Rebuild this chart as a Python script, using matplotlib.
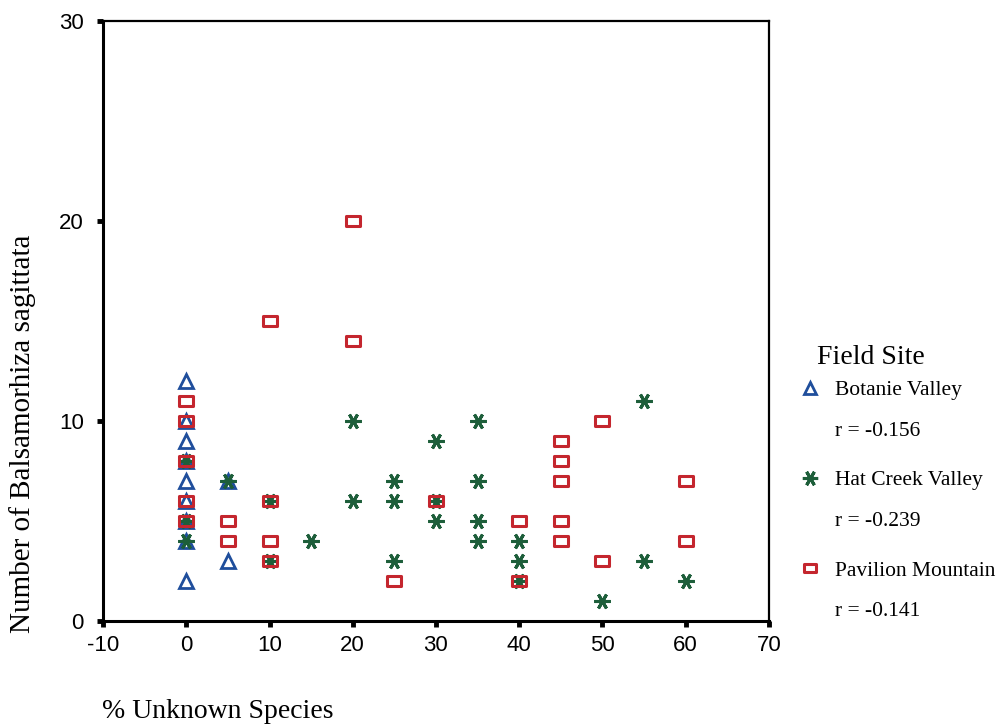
import matplotlib.pyplot as plt
import numpy as np
from matplotlib.lines import Line2D
from matplotlib.path import Path

# data
botanie_x = [0, 0, 0, 0, 0, 0, 0, 0, 0, 5, 5]
botanie_y = [12, 10, 9, 8, 7, 6, 5, 4, 2, 7, 3]

hatcreek_x = [0, 0, 0, 5, 10, 10, 15, 20, 20, 25, 25, 25, 30, 30, 30,
              35, 35, 35, 35, 40, 40, 40, 50, 55, 55, 60]
hatcreek_y = [8, 5, 4, 7, 6, 3, 4, 10, 6, 7, 6, 3, 9, 6, 5,
              10, 7, 5, 4, 4, 3, 2, 1, 11, 3, 2]

pavilion_x = [0, 0, 0, 0, 0, 5, 5, 10, 10, 10, 10, 20, 20, 25, 30,
              40, 40, 45, 45, 45, 45, 45, 50, 50, 60, 60]
pavilion_y = [11, 10, 8, 6, 5, 5, 4, 15, 6, 4, 3, 20, 14, 2, 6,
              5, 2, 9, 8, 7, 5, 4, 10, 3, 7, 4]

site_names = ['Botanie Valley', 'Hat Creek Valley', 'Pavilion Mountain']
r_values = ['r = -0.156', 'r = -0.239', 'r = -0.141']

blue = '#1f4e9c'
green = '#1d5e3a'
red = '#c4262e'

rect = Path([(-1, -0.78), (1, -0.78), (1, 0.78), (-1, 0.78), (-1, -0.78)],
            [Path.MOVETO, Path.LINETO, Path.LINETO, Path.LINETO, Path.CLOSEPOLY])
star = (6, 2, 90)

serif = ['Liberation Serif', 'DejaVu Serif']
sans = ['Liberation Sans', 'DejaVu Sans']
plt.rcParams['axes.unicode_minus'] = False

fig = plt.figure(figsize=(10.01, 7.27), dpi=100)
ax = fig.add_axes([0.103, 0.146, 0.665, 0.825])

ax.plot(botanie_x, botanie_y, ls='none', marker='^', ms=9.5, mfc='none',
        mec=blue, mew=2)
ax.plot(hatcreek_x, hatcreek_y, ls='none', marker=star, ms=11.5,
        mec=green, mew=2.2)
ax.plot(pavilion_x, pavilion_y, ls='none', marker=rect, ms=9.5, mfc='none',
        mec=red, mew=2.2)

ax.set_xlim(-10, 70)
ax.set_ylim(0, 30)
ax.set_xticks(np.arange(-10, 71, 10))
ax.set_yticks([0, 10, 20, 30])
ax.tick_params(direction='out', length=4, width=3.5, labelsize=16)
ax.tick_params(axis='x', pad=6)
ax.tick_params(axis='y', pad=10)
for lab in ax.get_xticklabels() + ax.get_yticklabels():
    lab.set_family(sans)
ax.spines['left'].set_linewidth(2.2)
ax.spines['bottom'].set_linewidth(2.2)
ax.spines['top'].set_linewidth(1.6)
ax.spines['right'].set_linewidth(1.6)

fig.text(0.102, 1 - 712 / 727, '% Unknown Species', family=serif, fontsize=20,
         ha='left', va='center')
fig.text(0.022, 1 - 434 / 727, 'Number of Balsamorhiza sagittata', family=serif,
         fontsize=21, rotation=90, ha='center', va='center')

# legend
fig.text(0.816, 1 - 357 / 727, 'Field Site', family=serif, fontsize=20,
         ha='left', va='center')
markers = [dict(marker='^', ms=8.5, mfc='none', mec=blue, mew=2),
           dict(marker=star, ms=11, mec=green, mew=2.2),
           dict(marker=rect, ms=8, mfc='none', mec=red, mew=2.2)]
for i, (name, r) in enumerate(zip(site_names, r_values)):
    yy = 391 + 90 * i
    fig.add_artist(Line2D([810 / 1001], [1 - (yy - 3) / 727], transform=fig.transFigure,
                          ls='none', **markers[i]))
    fig.text(835 / 1001, 1 - yy / 727, name, family=serif, fontsize=15.5,
             ha='left', va='center')
    fig.text(835 / 1001, 1 - (yy + 40) / 727, r, family=serif, fontsize=15.5,
             ha='left', va='center')

fig.savefig('out.png', dpi=100)
